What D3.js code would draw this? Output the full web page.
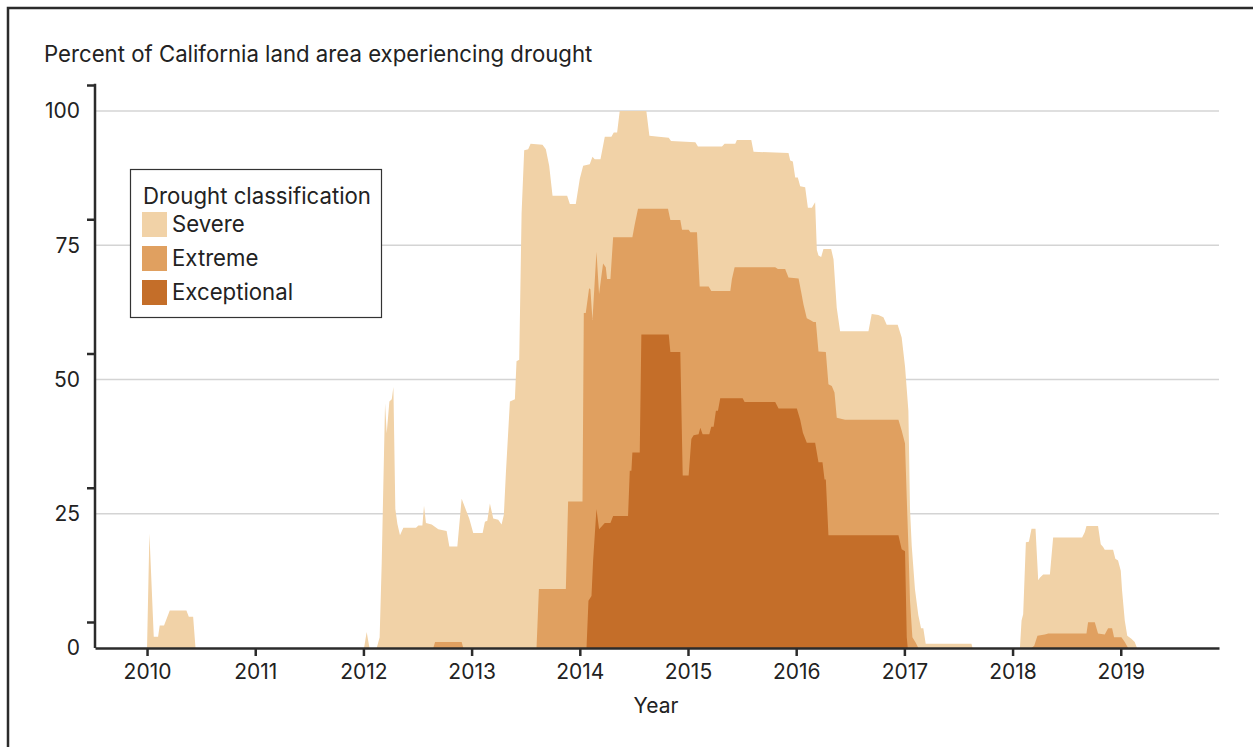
<!DOCTYPE html>
<html>
<head>
<meta charset="utf-8">
<script src="https://cdn.jsdelivr.net/npm/d3@7"></script>
<style>
  html, body { margin: 0; padding: 0; background: #fff; }
  svg text { font-family: Inter, "Noto Sans", sans-serif; fill: #222; }
</style>
</head>
<body>
<svg id="chart" width="1253" height="747"></svg>
<script>
// values: [decimal year, percent of land area]
const severe = [
  [2010.0, 0], [2010.022, 21.3], [2010.062, 2.1], [2010.102, 2.1], [2010.117, 4.2],
  [2010.157, 4.2], [2010.21, 7.0], [2010.364, 7.0], [2010.386, 5.8], [2010.426, 5.8],
  [2010.448, 0], [2012.006, 0], [2012.03, 3.0], [2012.056, 0], [2012.123, 0],
  [2012.15, 2], [2012.169, 15.8], [2012.2, 45.6], [2012.215, 40], [2012.24, 45.9],
  [2012.262, 46.3], [2012.277, 48.6], [2012.295, 25.9], [2012.314, 23.1], [2012.338, 21],
  [2012.369, 22.4], [2012.486, 22.4], [2012.508, 22.8], [2012.545, 22.8], [2012.56, 26.5],
  [2012.578, 23.3], [2012.631, 23], [2012.692, 22.1], [2012.769, 21.8], [2012.794, 18.9],
  [2012.868, 18.9], [2012.908, 27.8], [2012.938, 26.2], [2012.978, 24.1], [2013.015, 21.4],
  [2013.102, 21.4], [2013.123, 23.5], [2013.145, 23.7], [2013.169, 26.9], [2013.2, 24.1],
  [2013.246, 23.9], [2013.277, 23], [2013.298, 24.8], [2013.317, 32.7], [2013.354, 45.9],
  [2013.4, 46.3], [2013.415, 53.4], [2013.44, 53.7], [2013.462, 81], [2013.486, 92.7],
  [2013.523, 92.9], [2013.545, 93.9], [2013.655, 93.7], [2013.686, 92.9], [2013.717, 89.8],
  [2013.748, 84.2], [2013.883, 84.2], [2013.908, 82.7], [2013.963, 82.7], [2014.0, 87.4],
  [2014.031, 89.8], [2014.092, 90.1], [2014.117, 91.5], [2014.138, 91], [2014.191, 91],
  [2014.231, 95.2], [2014.292, 95.2], [2014.314, 96], [2014.345, 96], [2014.369, 100],
  [2014.615, 100], [2014.643, 95.4], [2014.729, 95.2], [2014.822, 95], [2014.843, 94.4],
  [2015.068, 94.2], [2015.092, 93.4], [2015.314, 93.4], [2015.338, 93.9], [2015.437, 93.9],
  [2015.452, 94.6], [2015.585, 94.6], [2015.606, 92.4], [2015.929, 92.2], [2015.945, 90.8],
  [2015.969, 90.6], [2015.991, 87.6], [2016.015, 87.6], [2016.037, 86], [2016.083, 85.8],
  [2016.108, 82], [2016.145, 82], [2016.175, 83], [2016.191, 74.1], [2016.206, 73.1],
  [2016.231, 72.8], [2016.252, 74.3], [2016.323, 74.3], [2016.345, 72.4], [2016.375, 63.3],
  [2016.406, 59], [2016.668, 59], [2016.698, 62.2], [2016.76, 62], [2016.806, 61.6],
  [2016.837, 60.2], [2016.938, 60.2], [2016.975, 57.8], [2017.006, 52.4], [2017.037, 44.2],
  [2017.052, 25.9], [2017.068, 19], [2017.098, 10.9], [2017.129, 6.1], [2017.154, 3.7],
  [2017.175, 3.7], [2017.197, 0.8], [2017.62, 0.8], [2017.63, 0],
  [2018.068, 0], [2018.083, 5.1], [2018.098, 6.3], [2018.123, 19.7], [2018.151, 19.8],
  [2018.175, 22.2], [2018.212, 22.2], [2018.237, 12.6], [2018.252, 13.1], [2018.283, 13.7],
  [2018.345, 13.7], [2018.375, 20.6], [2018.643, 20.6], [2018.668, 21.6], [2018.683, 22.7],
  [2018.79, 22.7], [2018.815, 19.3], [2018.837, 18.8], [2018.852, 18.3], [2018.929, 18.3],
  [2018.95, 16.6], [2018.975, 16.3], [2019.0, 14.4], [2019.012, 10.7], [2019.037, 5.1],
  [2019.06, 2.3], [2019.098, 1.7], [2019.129, 1.1], [2019.15, 0]
];

const extreme = [
  [2012.646, 0], [2012.662, 1.1], [2012.908, 1.1], [2012.923, 0],
  [2013.6, 0], [2013.622, 11], [2013.871, 11], [2013.892, 27.3], [2014.025, 27.3],
  [2014.037, 62.4], [2014.055, 62.4], [2014.086, 67], [2014.098, 66.8], [2014.117, 61.1],
  [2014.154, 73.8], [2014.178, 65.9], [2014.215, 71.6], [2014.24, 70.9], [2014.252, 68.7],
  [2014.283, 68.7], [2014.308, 76.5], [2014.486, 76.5], [2014.508, 78.9], [2014.538, 81.8],
  [2014.815, 81.8], [2014.837, 79.7], [2014.929, 79.7], [2014.945, 77.9], [2015.006, 77.9],
  [2015.022, 77.4], [2015.083, 77.4], [2015.108, 67.3], [2015.191, 67.3], [2015.215, 66.5],
  [2015.391, 66.5], [2015.406, 68.7], [2015.431, 70.9], [2015.806, 70.9], [2015.831, 70.6],
  [2015.898, 70.6], [2015.929, 69], [2016.022, 68.8], [2016.046, 66.3], [2016.068, 63.9],
  [2016.098, 61.4], [2016.129, 61.1], [2016.16, 60.7], [2016.182, 60.7], [2016.206, 55.2],
  [2016.274, 55.1], [2016.298, 49.1], [2016.329, 48.8], [2016.354, 47.6], [2016.375, 42.9],
  [2016.452, 42.5], [2016.945, 42.5], [2016.975, 40.5], [2017.006, 38.1], [2017.022, 27.9],
  [2017.037, 19], [2017.052, 8.8], [2017.074, 2], [2017.105, 1], [2017.129, 0],
  [2018.175, 0], [2018.2, 0.4], [2018.23, 2.3], [2018.298, 2.5], [2018.33, 2.7],
  [2018.683, 2.7], [2018.698, 4.8], [2018.76, 4.8], [2018.79, 2.7], [2018.852, 2.5],
  [2018.883, 3.7], [2018.92, 3.7], [2018.938, 2], [2019.006, 2], [2019.037, 1.1],
  [2019.068, 0]
];

const exceptional = [
  [2014.062, 0], [2014.08, 8.8], [2014.108, 9.7], [2014.123, 16.3], [2014.154, 25.9],
  [2014.178, 22.1], [2014.231, 23.3], [2014.283, 23.3], [2014.308, 24.6], [2014.446, 24.6],
  [2014.462, 33], [2014.477, 33], [2014.486, 36.4], [2014.554, 36.4], [2014.569, 58.4],
  [2014.822, 58.4], [2014.837, 55.1], [2014.929, 55.1], [2014.951, 32.1], [2015.006, 32.1],
  [2015.031, 38.9], [2015.052, 39.6], [2015.098, 39.8], [2015.114, 41], [2015.135, 39.8],
  [2015.197, 39.8], [2015.215, 41.2], [2015.237, 41.2], [2015.258, 44.2], [2015.277, 44.2],
  [2015.298, 46.5], [2015.505, 46.5], [2015.523, 45.8], [2015.806, 45.8], [2015.837, 44.6],
  [2016.006, 44.6], [2016.037, 42.5], [2016.062, 40.1], [2016.098, 38.2], [2016.175, 38.2],
  [2016.206, 34.6], [2016.243, 34.6], [2016.262, 31.4], [2016.274, 31.4], [2016.298, 21],
  [2016.945, 21], [2016.975, 18.4], [2017.006, 18], [2017.022, 2], [2017.031, 0]
];

const classes = ["Severe", "Extreme", "Exceptional"];
const classColors = ["#f1d2a7", "#e0a060", "#c46e29"];
const yearTicks = [2010, 2011, 2012, 2013, 2014, 2015, 2016, 2017, 2018, 2019];
const percentTicks = [0, 25, 50, 75, 100];

const svg = d3.select('#chart');

// outer frame (left and top edges visible)
svg.append('rect')
  .attr('x', 8).attr('y', 8)
  .attr('width', 1300).attr('height', 800)
  .attr('fill', 'none')
  .attr('stroke', '#2b2b2b')
  .attr('stroke-width', 2.5);

const x = d3.scaleLinear().domain([2009.519, 2019.908]).range([95, 1219]);
const y = d3.scaleLinear().domain([0, 100]).range([648, 111]);

// gridlines
svg.append('g')
  .selectAll('line')
  .data(percentTicks.filter(d => d > 0))
  .enter()
  .append('line')
  .attr('x1', 95).attr('x2', 1219)
  .attr('y1', d => y(d)).attr('y2', d => y(d))
  .attr('stroke', '#d4d4d4')
  .attr('stroke-width', 1.5);

const area = d3.area()
  .x(d => x(d[0]))
  .y0(y(0))
  .y1(d => y(d[1]));

svg.append('g')
  .selectAll('path')
  .data([severe, extreme, exceptional])
  .enter()
  .append('path')
  .attr('d', area)
  .attr('fill', (d, i) => classColors[i]);

// y axis: tick marks sit a little above the label positions
const yMarks = d3.scaleLinear().domain([0, 100]).range([y(0) - 26, y(100) - 26]);
const yAxis = svg.append('g')
  .attr('transform', 'translate(95,0)')
  .call(d3.axisLeft(yMarks).tickValues(percentTicks).tickSize(8).tickFormat(''));
yAxis.select('.domain').remove();
yAxis.selectAll('.tick line').attr('stroke', '#2b2b2b').attr('stroke-width', 2.5);
svg.append('line')
  .attr('x1', 95).attr('x2', 95)
  .attr('y1', yMarks(100) - 1.25).attr('y2', y(0))
  .attr('stroke', '#2b2b2b').attr('stroke-width', 2.5);

svg.append('g')
  .selectAll('text')
  .data(percentTicks)
  .enter()
  .append('text')
  .attr('x', 80)
  .attr('y', d => y(d))
  .attr('dy', '0.35em')
  .attr('text-anchor', 'end')
  .style('font-size', '21px')
  .text(d => d);

// x axis
const xAxis = svg.append('g')
  .attr('transform', 'translate(0,648)')
  .call(d3.axisBottom(x).tickValues(yearTicks).tickFormat(d3.format('d')).tickSize(8).tickSizeOuter(0).tickPadding(8));
xAxis.select('.domain').attr('stroke', '#2b2b2b').attr('stroke-width', 2.5);
xAxis.selectAll('.tick line').attr('stroke', '#2b2b2b').attr('stroke-width', 2.5);
xAxis.selectAll('.tick text')
  .style('font-family', 'Inter, "Noto Sans", sans-serif')
  .style('font-size', '21px')
  .attr('fill', '#222');

svg.append('text')
  .attr('x', 656).attr('y', 713)
  .attr('text-anchor', 'middle')
  .style('font-size', '21px')
  .text('Year');

svg.append('text')
  .attr('x', 44).attr('y', 62)
  .style('font-size', '22.2px')
  .text('Percent of California land area experiencing drought');

// legend
const legend = svg.append('g');
legend.append('rect')
  .attr('x', 130.5).attr('y', 169.5)
  .attr('width', 251).attr('height', 148)
  .attr('fill', '#fff')
  .attr('stroke', '#333')
  .attr('stroke-width', 1.2);
legend.append('text')
  .attr('x', 143).attr('y', 204)
  .style('font-size', '22.2px')
  .text('Drought classification');

const item = legend.selectAll('.item')
  .data(classes)
  .enter()
  .append('g')
  .attr('class', 'item')
  .attr('transform', (d, i) => 'translate(142,' + (212 + i * 34) + ')');
item.append('rect')
  .attr('width', 25).attr('height', 25)
  .attr('fill', (d, i) => classColors[i]);
item.append('text')
  .attr('x', 30).attr('y', 20)
  .style('font-size', '22.2px')
  .text(d => d);
</script>
</body>
</html>
